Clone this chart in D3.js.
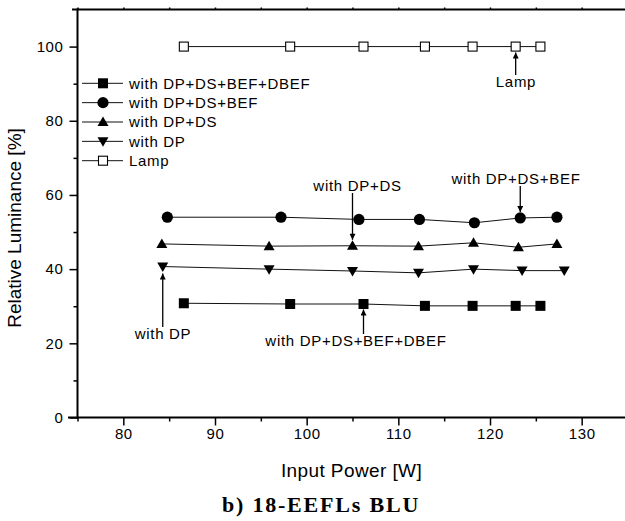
<!DOCTYPE html>
<html>
<head>
<meta charset="utf-8">
<script src="https://cdn.jsdelivr.net/npm/d3@7"></script>
<style>
  html, body { margin: 0; padding: 0; background: #fff; }
  svg { display: block; }
  text { font-family: Arial, "Liberation Sans", sans-serif; fill: #000; }
</style>
</head>
<body>
<script>
// ---- data ----
const seriesNames = ["with DP+DS+BEF+DBEF", "with DP+DS+BEF", "with DP+DS", "with DP", "Lamp"];
const xDBEF = [86.6, 98.2, 106.2, 112.9, 118.1, 122.8, 125.5];
const yDBEF = [30.8, 30.6, 30.6, 30.1, 30.1, 30.1, 30.1];
const xBEF  = [84.8, 97.2, 105.7, 112.3, 118.3, 123.3, 127.3];
const yBEF  = [54.0, 54.0, 53.4, 53.4, 52.5, 53.8, 54.0];
const xDS   = [84.2, 95.9, 105.0, 112.2, 118.2, 123.1, 127.3];
const yDS   = [46.8, 46.2, 46.3, 46.2, 47.1, 45.9, 46.8];
const xDP   = [84.3, 95.9, 105.0, 112.2, 118.2, 123.5, 128.1];
const yDP   = [40.7, 40.0, 39.5, 39.0, 40.0, 39.6, 39.6];
const xLamp = [86.6, 98.2, 106.2, 112.9, 118.1, 122.8, 125.5];
const yLamp = [100, 100, 100, 100, 100, 100, 100];
const xTicks = [80, 90, 100, 110, 120, 130];
const xMinor = [75, 85, 95, 105, 115, 125, 135];
const yTicks = [0, 20, 40, 60, 80, 100];
const yMinor = [10, 30, 50, 70, 90];
const xTitle = "Input Power [W]";
const yTitle = "Relative Luminance [%]";
const caption = "b) 18-EEFLs BLU";

const W = 625, H = 521;
const svg = d3.select("body").append("svg").attr("width", W).attr("height", H);

const x = d3.scaleLinear().domain([75, 135]).range([77.5, 627.5]);
const y = d3.scaleLinear().domain([0, 110]).range([417.5, 9.5]);

const defs = svg.append("defs");
defs.append("marker").attr("id", "arr").attr("viewBox", "0 0 10 10")
  .attr("refX", 10).attr("refY", 5).attr("markerWidth", 8).attr("markerHeight", 6)
  .attr("markerUnits", "userSpaceOnUse").attr("orient", "auto")
  .append("path").attr("d", "M0,0 L10,5 L0,10 Z").attr("fill", "#000");

// symbols
function drawMarker(g, type, cx, cy) {
  if (type === "square") {
    g.append("rect").attr("x", cx - 5).attr("y", cy - 5).attr("width", 10).attr("height", 10).attr("fill", "#000");
  } else if (type === "circle") {
    g.append("circle").attr("cx", cx).attr("cy", cy).attr("r", 5.6).attr("fill", "#000");
  } else if (type === "up") {
    g.append("path").attr("d", `M${cx},${cy - 5.5} L${cx + 5.5},${cy + 4} L${cx - 5.5},${cy + 4} Z`).attr("fill", "#000");
  } else if (type === "down") {
    g.append("path").attr("d", `M${cx},${cy + 5.5} L${cx + 5.5},${cy - 4} L${cx - 5.5},${cy - 4} Z`).attr("fill", "#000");
  } else if (type === "open") {
    g.append("rect").attr("x", cx - 4.5).attr("y", cy - 4.5).attr("width", 9).attr("height", 9)
      .attr("fill", "#fff").attr("stroke", "#000").attr("stroke-width", 1.1);
  }
}

const series = [
  { name: seriesNames[0], xs: xDBEF, ys: yDBEF, m: "square" },
  { name: seriesNames[1], xs: xBEF, ys: yBEF, m: "circle" },
  { name: seriesNames[2], xs: xDS, ys: yDS, m: "up" },
  { name: seriesNames[3], xs: xDP, ys: yDP, m: "down" },
  { name: seriesNames[4], xs: xLamp, ys: yLamp, m: "open" }
];

const line = d3.line().x(d => x(d[0])).y(d => y(d[1]));
const plot = svg.append("g");
series.forEach(s => {
  const pts = s.xs.map((v, i) => [v, s.ys[i]]);
  plot.append("path").attr("d", line(pts)).attr("fill", "none").attr("stroke", "#111").attr("stroke-width", 1);
  const mg = plot.append("g");
  pts.forEach(p => drawMarker(mg, s.m, x(p[0]), y(p[1])));
});

// axes
svg.append("g").attr("transform", `translate(0,${y(0)})`)
  .call(d3.axisBottom(x).tickValues(xTicks).tickSize(8).tickPadding(3).tickFormat(d3.format("d")));
svg.append("g").attr("transform", `translate(0,${y(0)})`)
  .call(d3.axisBottom(x).tickValues(xMinor).tickSize(4).tickFormat(""));
svg.append("g").attr("transform", `translate(${x(75)},0)`)
  .call(d3.axisLeft(y).tickValues(yTicks).tickSize(8).tickPadding(6).tickFormat(d3.format("d")));
svg.append("g").attr("transform", `translate(${x(75)},0)`)
  .call(d3.axisLeft(y).tickValues(yMinor).tickSize(4).tickFormat(""));
svg.append("g").attr("transform", `translate(0,${y(110)})`)
  .call(d3.axisTop(x).tickValues(xTicks.concat(xMinor)).tickSize(2).tickFormat(""));

svg.selectAll(".tick line").attr("stroke", "#000").attr("stroke-width", 1.5);
svg.selectAll(".tick text").attr("font-size", 15).attr("font-family", "Arial, 'Liberation Sans', sans-serif")
  .attr("fill", "#000").attr("letter-spacing", "0.6px");
svg.selectAll(".domain").remove();
svg.append("line").attr("x1", 68).attr("x2", W).attr("y1", y(0)).attr("y2", y(0)).attr("stroke", "#000").attr("stroke-width", 2);
svg.append("line").attr("x1", x(75)).attr("x2", x(75)).attr("y1", y(110) - 1).attr("y2", y(0) + 1).attr("stroke", "#000").attr("stroke-width", 2);
svg.append("line").attr("x1", 72).attr("x2", W).attr("y1", y(110)).attr("y2", y(110)).attr("stroke", "#000").attr("stroke-width", 2);

// axis titles
svg.append("text").attr("x", (x(75) + x(135)) / 2 - 1).attr("y", 477).attr("text-anchor", "middle")
  .attr("font-size", 19).attr("letter-spacing", "0.4px").text(xTitle);
svg.append("text").attr("transform", `translate(21,228) rotate(-90)`).attr("text-anchor", "middle")
  .attr("font-size", 19).text(yTitle);
svg.append("text").attr("x", 321).attr("y", 512).attr("text-anchor", "middle")
  .attr("font-size", 22).attr("font-weight", "bold").attr("letter-spacing", "1.8px")
  .style("font-family", "'Times New Roman', 'Liberation Serif', serif").text(caption);

// legend
const lg = svg.append("g");
const legY0 = 83.3, legDy = 19.35;
series.forEach((s, i) => {
  const yy = legY0 + i * legDy;
  lg.append("line").attr("x1", 82).attr("x2", 123).attr("y1", yy).attr("y2", yy).attr("stroke", "#111").attr("stroke-width", 1);
  drawMarker(lg, s.m, 103, yy);
  lg.append("text").attr("x", 129).attr("y", yy + 5.2).attr("font-size", 15).attr("letter-spacing", "0.7px").text(s.name);
});

// annotations
const ann = svg.append("g");
function annotate(label, tx, ty, ax, ay1, ay2) {
  ann.append("text").attr("x", tx).attr("y", ty).attr("text-anchor", "middle")
    .attr("font-size", 15).attr("letter-spacing", "0.7px").text(label);
  ann.append("line").attr("x1", ax).attr("x2", ax).attr("y1", ay1).attr("y2", ay2)
    .attr("stroke", "#000").attr("stroke-width", 1.3).attr("marker-end", "url(#arr)");
}
annotate(seriesNames[4], 516, 87, x(xLamp[5]), 75, y(yLamp[5]) + 6);
annotate(seriesNames[2], 357.5, 191, x(xDS[2]), 193, y(yDS[2]) - 6);
annotate(seriesNames[1], 516, 184, x(xBEF[5]), 186, y(yBEF[5]) - 6);
annotate(seriesNames[3], 163, 339, x(xDP[0]), 327, y(yDP[0]) + 7);
annotate(seriesNames[0], 356, 346, x(xDBEF[2]), 334, y(yDBEF[2]) + 5.5);
</script>
</body>
</html>
